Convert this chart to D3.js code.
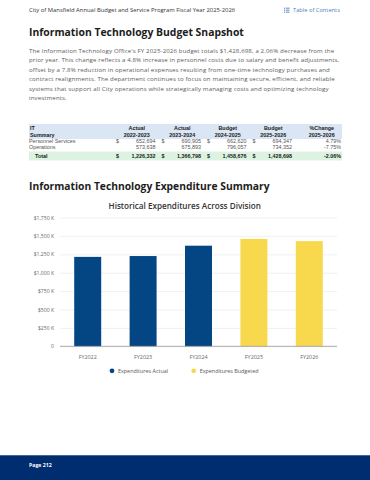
<!DOCTYPE html>
<html><head><meta charset="utf-8">
<script src="https://cdn.jsdelivr.net/npm/d3@7"></script>
<style>
html,body{margin:0;padding:0;background:#fff;}
svg{display:block;}
</style></head><body>
<svg id="page" width="370" height="480"></svg>
<script>
// ---------- DATA ----------
const years = ["FY2022","FY2023","FY2024","FY2025","FY2026"];
const expenditures = [1215000,1226332,1366798,1458676,1428698];
const seriesOf = ["Expenditures Actual","Expenditures Actual","Expenditures Actual","Expenditures Budgeted","Expenditures Budgeted"];
const seriesNames = ["Expenditures Actual","Expenditures Budgeted"];
const yTicks = [0,250000,500000,750000,1000000,1250000,1500000,1750000];

const tableHead1 = ["IT","Actual","Actual","Budget","Budget","%Change"];
const tableHead2 = ["Summary","2022-2023","2023-2024","2024-2025","2025-2026","2025-2026"];
const rowLabels = ["Personnel Services","Operations","Total"];
const personnel = [652694,690905,662620,694347];
const operations = [573638,675893,796057,734352];
const totals = [1226332,1366798,1458676,1428698];
const pctChange = ["4.79%","-7.75%","-2.06%"];

const headerText = "City of Mansfield Annual Budget and Service Program Fiscal Year 2025-2026";
const tocText = "Table of Contents";
const title1 = "Information Technology Budget Snapshot";
const title2 = "Information Technology Expenditure Summary";
const chartTitle = "Historical Expenditures Across Division";
const paragraph = [
 "The Information Technology Office's FY 2025-2026 budget totals $1,428,698, a 2.06% decrease from the",
 "prior year. This change reflects a 4.8% increase in personnel costs due to salary and benefit adjustments,",
 "offset by a 7.8% reduction in operational expenses resulting from one-time technology purchases and",
 "contract realignments. The department continues to focus on maintaining secure, efficient, and reliable",
 "systems that support all City operations while strategically managing costs and optimizing technology",
 "investments."
];
const pageLabel = "Page 212";

// ---------- HELPERS ----------
const svg = d3.select("#page");
const SANS = "'Open Sans', 'DejaVu Sans', sans-serif";
const ARIAL = "'Liberation Sans', Arial, sans-serif";
function fit(sel, w){
  const fs = parseFloat(sel.attr("font-size"));
  const l = sel.node().getComputedTextLength();
  if (l>0) sel.attr("font-size", fs*w/l);
  return sel;
}
const fmt = d3.format(",");

// ---------- PAGE HEADER ----------
fit(svg.append("text").attr("x",29).attr("y",12).attr("font-family",SANS).attr("font-size",6)
  .attr("fill","#333").text(headerText), 207);
const tocG = svg.append("g").attr("fill","#4f7fc0");
[8.2,10.2,12.2].forEach(yy=>{
  tocG.append("rect").attr("x",284).attr("y",yy-0.5).attr("width",1).attr("height",1);
  tocG.append("rect").attr("x",285.7).attr("y",yy-0.5).attr("width",3.8).attr("height",0.9);
});
fit(tocG.append("text").attr("x",293).attr("y",12.3).attr("font-family",SANS).attr("font-size",6)
  .text(tocText), 47);

// ---------- TITLE 1 ----------
fit(svg.append("text").attr("x",29).attr("y",35.8).attr("font-family",SANS).attr("font-weight",700)
  .attr("font-size",10).attr("fill","#1c1c1c").text(title1), 215);

// ---------- PARAGRAPH ----------
const pBase = [52.8,62.3,71.9,81.4,90.9,100.4];
const pW = [303,309,302,308,304];
const pTexts = paragraph.map((t,i)=> svg.append("text").attr("x",29).attr("y",pBase[i])
  .attr("font-family",SANS).attr("font-size",6).attr("letter-spacing",0.12)
  .attr("fill","#5c5c5c").text(t));
let ratio = 0;
pW.forEach((w,i)=>{ ratio += w/pTexts[i].node().getComputedTextLength(); });
ratio/=pW.length;
pTexts.forEach(t=>t.attr("font-size",6*ratio));

// ---------- TABLE ----------
const colStart = [114,159.5,205,250.5,296];
const colW = 45.5;
svg.append("rect").attr("x",29).attr("y",124).attr("width",313).attr("height",15).attr("fill","#dbe6f4");
svg.append("rect").attr("x",29).attr("y",151.5).attr("width",313).attr("height",9).attr("fill","#dcf3e2");
const tfs = 5.4;
const tt = (x,y,txt,anchor,bold,col)=> svg.append("text").attr("x",x).attr("y",y)
  .attr("font-family",ARIAL).attr("font-size",tfs).attr("text-anchor",anchor||"start")
  .attr("font-weight",bold?700:400).attr("fill",col||"#333").text(txt);
tt(30,130,tableHead1[0],"start",true,"#1a1a1a");
tt(30,137.2,tableHead2[0],"start",true,"#1a1a1a");
for(let i=1;i<6;i++){
  const cx = colStart[i-1]+colW/2 + (i===5?3:0);
  tt(cx,130,tableHead1[i],"middle",true,"#1a1a1a");
  tt(cx,137.2,tableHead2[i],"middle",true,"#1a1a1a");
}
const rowsY = [143.3,149,158.2];
const rowVals = [personnel, operations, totals];
rowLabels.forEach((lab,r)=>{
  const bold = r===2;
  tt(r===2?35:29, rowsY[r], lab, "start", bold, bold?"#1a1a1a":"#555");
  rowVals[r].forEach((v,c)=>{
    if (r!==1) tt(colStart[c]+2, rowsY[r], "$", "start", bold, bold?"#1a1a1a":"#555");
    tt(colStart[c]+colW-4, rowsY[r], fmt(v), "end", bold, bold?"#1a1a1a":"#555");
  });
  tt(341, rowsY[r], pctChange[r], "end", bold, bold?"#1a1a1a":"#555");
});

// ---------- TITLE 2 ----------
fit(svg.append("text").attr("x",29).attr("y",190).attr("font-family",SANS).attr("font-weight",700)
  .attr("font-size",10).attr("fill","#1c1c1c").text(title2), 241);

// ---------- CHART ----------
fit(svg.append("text").attr("x",184.7).attr("y",208.6).attr("text-anchor","middle")
  .attr("font-family",SANS).attr("font-weight",600).attr("font-size",7.5).attr("fill","#333")
  .text(chartTitle), 152.7);

const y = d3.scaleLinear().domain([0,1750000]).range([346.3,217.5]);
const x = d3.scaleBand().domain(years).range([60,337]).paddingInner(0.513).paddingOuter(0.2565);
const color = d3.scaleOrdinal().domain(seriesNames).range(["#044584","#f8d84c"]);

const yAxis = svg.append("g").attr("transform","translate(60,0)")
  .call(d3.axisLeft(y).tickValues(yTicks).tickSize(-277)
    .tickFormat(d=> d===0 ? "0" : "$" + fmt(d/1000) + " K"));
yAxis.select(".domain").remove();
yAxis.selectAll(".tick line").attr("stroke","#ececec").attr("stroke-width",0.8);
yAxis.selectAll(".tick text").attr("x",-6).attr("font-family",SANS).attr("font-size",5.1)
  .attr("fill","#666");

svg.selectAll("rect.bar").data(years).enter().append("rect").attr("class","bar")
  .attr("x",d=>x(d)).attr("width",x.bandwidth())
  .attr("y",(d,i)=>y(expenditures[i])).attr("height",(d,i)=>y(0)-y(expenditures[i]))
  .attr("fill",(d,i)=>color(seriesOf[i]));

svg.append("line").attr("x1",60).attr("x2",337).attr("y1",y(0)).attr("y2",y(0))
  .attr("stroke","#999").attr("stroke-width",0.8);

const xAxis = svg.append("g").attr("transform",`translate(0,${y(0)})`)
  .call(d3.axisBottom(x).tickSize(0).tickPadding(8.5));
xAxis.select(".domain").remove();
xAxis.selectAll(".tick text").attr("font-family",SANS).attr("font-size",5.4).attr("fill","#666");

// legend
const legX = [112,193.7];
seriesNames.forEach((s,i)=>{
  svg.append("circle").attr("cx",legX[i]).attr("cy",370.8).attr("r",2.4).attr("fill",color(s));
  svg.append("text").attr("x",legX[i]+6).attr("y",372.7).attr("font-family",SANS)
    .attr("font-size",5.4).attr("fill","#555").text(s);
});

// ---------- FOOTER ----------
svg.append("rect").attr("x",0).attr("y",455).attr("width",370).attr("height",25).attr("fill","#002c70");
svg.append("rect").attr("x",0).attr("y",455).attr("width",370).attr("height",0.8).attr("fill","#5576a8");
svg.append("text").attr("x",29).attr("y",467.3).attr("font-family",SANS).attr("font-weight",700)
  .attr("font-size",5.2).attr("fill","#fff").text(pageLabel);
</script>
</body></html>
